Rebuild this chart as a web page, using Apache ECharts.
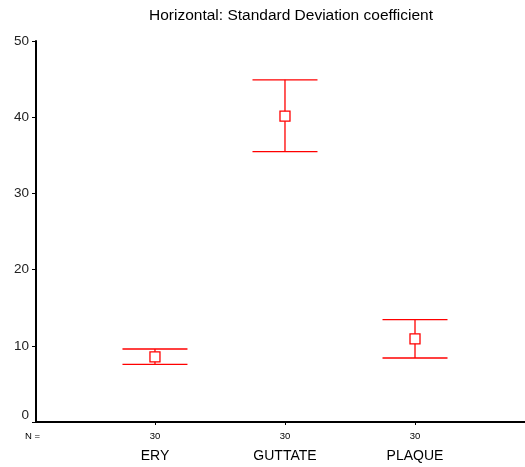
<!DOCTYPE html>
<html lang="en">
<head>
    <meta charset="UTF-8">
    <title>Standard Deviation coefficient</title>
    <script src="https://cdn.jsdelivr.net/npm/echarts@6/dist/echarts.min.js"></script>
    <style>
        html, body { margin: 0; padding: 0; background: #fff; }
        #charts { width: 525px; height: 467px; }
    </style>
</head>
<body>
<div id="charts"></div>
<script>
    // data
    var categories = ['ERY', 'GUTTATE', 'PLAQUE'];
    var counts = [30, 30, 30];
    var means = [8.55, 40.13, 10.92];
    var lowers = [7.57, 35.47, 8.40];
    var uppers = [9.58, 44.9, 13.43];
    var yTicks = [0, 10, 20, 30, 40, 50];

    var positions = categories.map(function (c, i) { return i + 1; });
    var barData = positions.map(function (p, i) { return [p, lowers[i], uppers[i]]; });
    var meanData = positions.map(function (p, i) { return [p, means[i]]; });

    var font = 'Liberation Sans, Arial, sans-serif';
    var red = '#ff0000';

    var option = {
        animation: false,
        title: {
            text: 'Horizontal: Standard Deviation coefficient',
            left: 144,
            top: 3,
            textStyle: { fontSize: 15.5, fontWeight: 'normal', color: '#000', fontFamily: font }
        },
        grid: { left: 36, right: 0, top: 41, bottom: 45 },
        xAxis: [{
            type: 'value',
            min: 0.085,
            max: 3.846,
            splitLine: { show: false },
            axisLine: { show: true, onZero: false, lineStyle: { color: '#000', width: 2 } },
            axisTick: { show: true, customValues: positions, length: 3, lineStyle: { color: '#000' } },
            axisLabel: {
                customValues: positions,
                margin: 8,
                formatter: function (v) {
                    var i = Math.round(v) - 1;
                    return '{n|' + counts[i] + '}\n{c|' + categories[i] + '}';
                },
                rich: {
                    n: { fontSize: 9.5, lineHeight: 12, color: '#000', fontFamily: font },
                    c: { fontSize: 14, lineHeight: 28, color: '#000', fontFamily: font }
                }
            }
        }, {
            type: 'value',
            position: 'top',
            min: 0.085,
            max: 3.846,
            splitLine: { show: false },
            axisLine: { show: true, lineStyle: { color: '#000', width: 2 } },
            axisTick: { show: false },
            axisLabel: { show: false }
        }],
        yAxis: {
            type: 'value',
            min: 0,
            max: 50,
            interval: 10,
            splitLine: { show: false },
            axisLine: { show: true, lineStyle: { color: '#000', width: 2 } },
            axisTick: { show: true, length: 4, lineStyle: { color: '#000' } },
            axisLabel: {
                margin: 7,
                formatter: function (v) {
                    if (yTicks.indexOf(v) < 0) return '';
                    return v === 0 ? '{z|0}' : '{t|' + v + '}';
                },
                rich: {
                    t: { fontSize: 13.5, color: '#222', fontFamily: font },
                    z: { fontSize: 13.5, color: '#222', fontFamily: font, padding: [0, 0, 13, 0] }
                }
            }
        },
        graphic: [{
            type: 'text',
            left: 25,
            top: 431,
            style: { text: 'N =', fontSize: 9.5, fill: '#000', fontFamily: font }
        }],
        series: [{
            type: 'custom',
            data: barData,
            renderItem: function (params, api) {
                var x = api.value(0);
                var lo = api.coord([x, api.value(1)]);
                var hi = api.coord([x, api.value(2)]);
                var half = 32.5;
                var style = { stroke: red, lineWidth: 1.3 };
                return {
                    type: 'group',
                    children: [
                        { type: 'line', shape: { x1: lo[0], y1: lo[1], x2: hi[0], y2: hi[1] }, style: style },
                        { type: 'line', shape: { x1: lo[0] - half, y1: lo[1], x2: lo[0] + half, y2: lo[1] }, style: style },
                        { type: 'line', shape: { x1: hi[0] - half, y1: hi[1], x2: hi[0] + half, y2: hi[1] }, style: style }
                    ]
                };
            },
            z: 2
        }, {
            type: 'scatter',
            data: meanData,
            symbol: 'rect',
            symbolSize: 10,
            itemStyle: { color: '#fff', borderColor: red, borderWidth: 1.3, opacity: 1 },
            z: 3
        }]
    };

    var myChart = echarts.init(document.getElementById('charts'));
    myChart.setOption(option);
</script>
</body>
</html>
